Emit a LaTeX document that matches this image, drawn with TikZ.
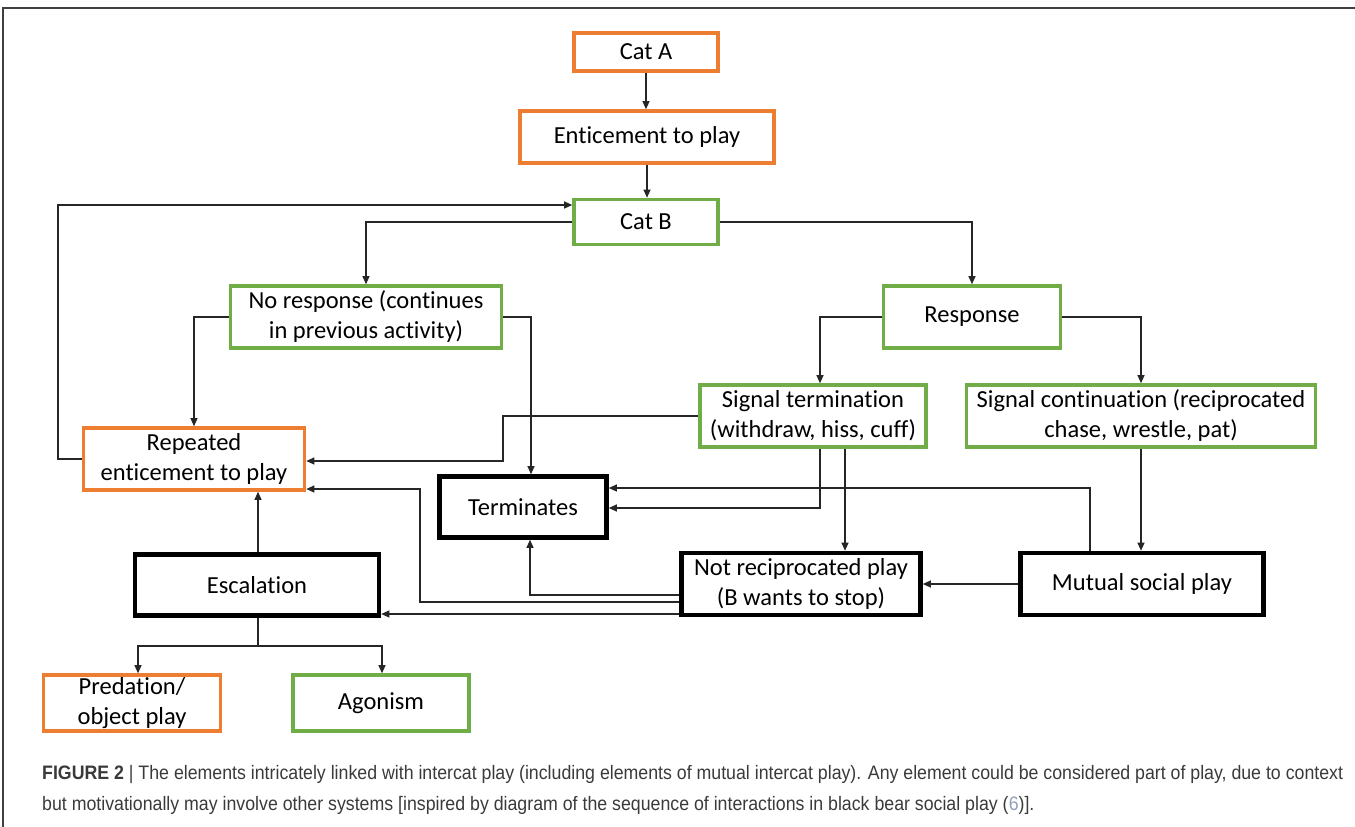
\documentclass[tikz,border=0pt]{standalone}
\usepackage{fontspec}
\setmainfont[Ligatures=NoCommon]{Carlito}
\newfontfamily\capfont[FakeStretch=0.91]{Liberation Sans}
\usetikzlibrary{arrows.meta,calc}
\definecolor{orangeC}{HTML}{ED7D31}
\definecolor{greenC}{HTML}{70AD47}
\definecolor{lineC}{HTML}{262626}
\definecolor{capC}{HTML}{3A3A3A}
\definecolor{refC}{HTML}{8FA0B8}
\tikzset{
  box/.style={rectangle, align=center, inner sep=2pt, font=\fontsize{24.5}{30}\selectfont, text=black},
  obox/.style={box, draw=orangeC, line width=3.6pt},
  gbox/.style={box, draw=greenC, line width=3.6pt},
  kbox/.style={box, draw=black, line width=4.6pt},
  arr/.style={draw=lineC, line width=1.1pt, -{Triangle[length=8pt,width=7pt]}},
  ln/.style={draw=lineC, line width=1.1pt}
}
\begin{document}
\begin{tikzpicture}[x=1pt,y=-1pt]
\useasboundingbox (0,0) rectangle (1355,827);
\draw[draw=black!75, line width=1.4pt] (3,827) -- (3,8) -- (1355,8);

% nodes
\node[obox, minimum width=144pt, minimum height=38pt] (catA) at (646,52) {Cat A};
\node[obox, minimum width=254pt, minimum height=52pt] (entice) at (647,137) {Enticement to play};
\node[gbox, minimum width=144pt, minimum height=45pt] (catB) at (646,222) {Cat B};
\node[gbox, minimum width=271pt, minimum height=62pt] (noresp) at (366,317) {No response (continues\\in previous activity)};
\node[gbox, minimum width=177pt, minimum height=62pt] (resp) at (972,317) {Response};
\node[gbox, minimum width=226pt, minimum height=62pt] (sterm) at (813,416) {Signal termination\\(withdraw, hiss, cuff)};
\node[gbox, minimum width=349pt, minimum height=62pt] (scont) at (1141,416) {Signal continuation (reciprocated\\chase, wrestle, pat)};
\node[obox, minimum width=221pt, minimum height=62pt] (repeat) at (194,459) {Repeated\\enticement to play};
\node[kbox, minimum width=167pt, minimum height=61pt] (term) at (523,507) {Terminates};
\node[kbox, minimum width=244pt, minimum height=61pt] (escal) at (257,585) {Escalation};
\node[kbox, minimum width=239pt, minimum height=62pt] (notrec) at (801,584) {Not reciprocated play\\(B wants to stop)};
\node[kbox, minimum width=243pt, minimum height=62pt] (mutual) at (1142,584) {Mutual social play};
\node[obox, minimum width=177pt, minimum height=56pt] (pred) at (132,703) {Predation/\\object play};
\node[gbox, minimum width=176pt, minimum height=56pt] (agon) at (381,703) {Agonism};

% connectors
\draw[arr] (catA.south) -- (catA.south |- entice.north);
\draw[arr] (entice.south) -- (entice.south |- catB.north);
\draw[arr] (catB.west) -| (noresp.north);
\draw[arr] (catB.east) -| (resp.north);
\draw[arr] (repeat.west) -| (58,205) -- (catB.west |- 0,205);
\draw[arr] (noresp.west) -| (repeat.north);
\draw[arr] (noresp.east) -| ([xshift=8pt]term.north);
\draw[arr] (resp.west) -| (sterm.north -| 820,0);
\draw[arr] (resp.east) -| (scont.north);
\draw[arr] (sterm.west) -| (503,461) -- (repeat.east |- 0,461);
\draw[arr] (sterm.south -| 820,0) |- (term.east |- 0,508);
\draw[arr] (sterm.south -| 845,0) -- (notrec.north -| 845,0);
\draw[arr] (mutual.north -| 1090,0) |- (term.east |- 0,488);
\draw[arr] (scont.south) -- (scont.south |- mutual.north);
\draw[arr] (mutual.west) -- (notrec.east);
\draw[arr] (notrec.west |- 0,595) -| (term.south -| 530,0);
\draw[arr] (notrec.west |- 0,602) -| (420,489) -- (repeat.east |- 0,489);
\draw[arr] (notrec.west |- 0,614) -- (escal.east |- 0,614);
\draw[arr] (escal.north -| 258,0) -- (repeat.south -| 258,0);
\coordinate (br) at (258,646);
\draw[ln] (escal.south -| br) -- (br);
\draw[arr] (br) -| (pred.north -| 138,0);
\draw[arr] (br) -| (agon.north -| 382,0);

% caption
\node[anchor=north west, inner sep=0pt, align=left, text=capC,
      font=\capfont\fontsize{19.5}{31}\selectfont] (cap) at (42,765)
{\textbf{FIGURE 2} | The elements intricately linked with intercat play (including elements of mutual intercat play). Any element could be considered part of play, due to context\\
but motivationally may involve other systems [inspired by diagram of the sequence of interactions in black bear social play ({\color{refC}6})].};
\end{tikzpicture}
\end{document}
